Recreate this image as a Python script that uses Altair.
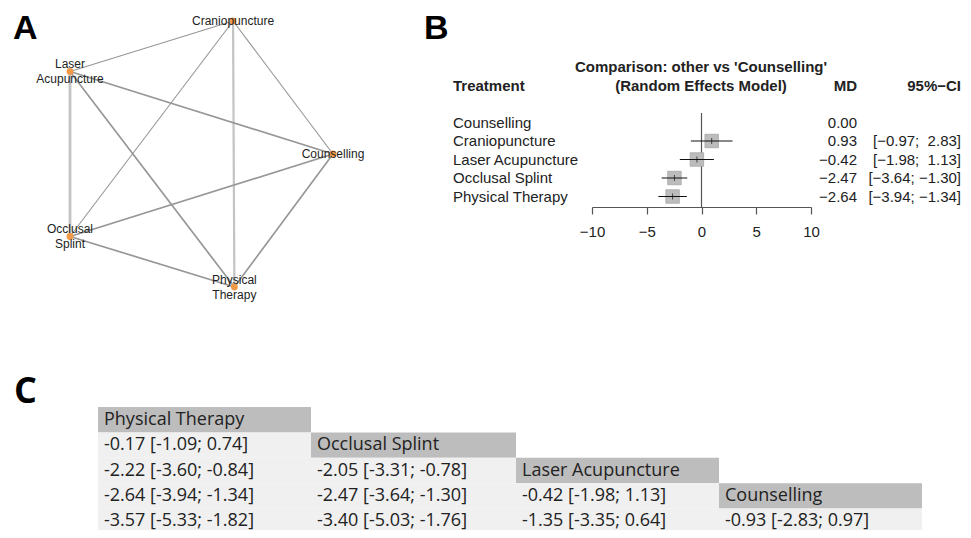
import altair as alt
import pandas as pd

# ---------------- data ----------------
panel_letters = ["A", "B", "C"]

# Panel A: network graph (layout coordinates of the nodes)
nodes = ["Craniopuncture", "Laser Acupuncture", "Counselling", "Occlusal Splint", "Physical Therapy"]
node_labels = ["Craniopuncture", "Laser\nAcupuncture", "Counselling", "Occlusal\nSplint", "Physical\nTherapy"]
node_x = [0.24, -1.0, 1.0, -1.0, 0.25]
node_y = [1.0, 0.62, 0.0, -0.62, -1.0]

edge_from = ["Craniopuncture", "Craniopuncture", "Craniopuncture", "Craniopuncture",
             "Laser Acupuncture", "Laser Acupuncture", "Laser Acupuncture",
             "Counselling", "Counselling", "Occlusal Splint"]
edge_to = ["Laser Acupuncture", "Counselling", "Occlusal Splint", "Physical Therapy",
           "Counselling", "Occlusal Splint", "Physical Therapy",
           "Occlusal Splint", "Physical Therapy", "Physical Therapy"]
edge_studies = [1, 1, 1, 3, 2, 4, 2, 2, 2, 2]
edge_shade = ["dark", "dark", "dark", "light", "dark", "light", "dark", "dark", "dark", "dark"]

# Panel B: forest plot
treatments = ["Counselling", "Craniopuncture", "Laser Acupuncture", "Occlusal Splint", "Physical Therapy"]
md = [0.00, 0.93, -0.42, -2.47, -2.64]
ci_low = [None, -0.97, -1.98, -3.64, -3.94]
ci_high = [None, 2.83, 1.13, -1.30, -1.34]
axis_ticks = [-10, -5, 0, 5, 10]
forest_title = ["Comparison: other vs 'Counselling'", "(Random Effects Model)"]
forest_cols = ["Treatment", "MD", "95%\u2212CI"]

# Panel C: league table
league_heads = ["Physical Therapy", "Occlusal Splint", "Laser Acupuncture", "Counselling"]
league_md = [[-0.17], [-2.22, -2.05], [-2.64, -2.47, -0.42], [-3.57, -3.40, -1.35, -0.93]]
league_lo = [[-1.09], [-3.60, -3.31], [-3.94, -3.64, -1.98], [-5.33, -5.03, -3.35, -2.83]]
league_hi = [[0.74], [-0.84, -0.78], [-1.34, -1.30, 1.13], [-1.82, -1.76, 0.64, 0.97]]

# ---------------- tables built from the arrays ----------------
FONT_R = "Liberation Sans"
FONT_T = "Open Sans"

pos = {n: (x, y) for n, x, y in zip(nodes, node_x, node_y)}
edges = pd.DataFrame({"from": edge_from, "to": edge_to, "n": edge_studies, "shade": edge_shade})
edges["x"] = [pos[k][0] for k in edges["from"]]
edges["y"] = [pos[k][1] for k in edges["from"]]
edges["x2"] = [pos[k][0] for k in edges["to"]]
edges["y2"] = [pos[k][1] for k in edges["to"]]
node_df = pd.DataFrame({"node": nodes, "label": node_labels, "x": node_x, "y": node_y})
node_df["lines"] = [lab.count("\n") + 1 for lab in node_labels]


def rnum(v, width=0):
    s = f"{v:{width}.2f}"
    return s.replace("-", "\u2212").replace(" ", "\u00a0")


forest = pd.DataFrame({"treatment": treatments, "md": md, "lo": ci_low, "hi": ci_high})
forest["md_txt"] = [rnum(v) for v in md]
forest["ci_txt"] = [
    "" if lo is None else "[" + rnum(lo, 5) + ";\u00a0" + rnum(hi, 5) + "]"
    for lo, hi in zip(ci_low, ci_high)
]
forest_ci = forest.dropna(subset=["lo"]).copy()

cells = []
for i, h in enumerate(league_heads):
    cells.append({"row": i, "c0": i, "c1": i + 1, "text": h, "kind": "head"})
for r in range(len(league_md)):
    for c in range(len(league_md[r])):
        t = f"{league_md[r][c]:.2f} [{league_lo[r][c]:.2f}; {league_hi[r][c]:.2f}]"
        cells.append({"row": r + 1, "c0": c, "c1": c + 1, "text": t, "kind": "body"})
cells = pd.DataFrame(cells)

# ---------------- scales ----------------
net_x = alt.Scale(domain=[-1, 1], range=[62, 325])
net_y = alt.Scale(domain=[-1, 1], range=[279, 13])
fx = alt.Scale(domain=[-10, 10], range=[584, 803])
fy = alt.Scale(type="point", domain=treatments, range=[114.5, 188.5], padding=0)
tc = alt.Scale(type="linear", domain=[0, 1, 2, 3, 4], range=[90, 303, 508, 711, 914])
tr = alt.Scale(type="band", domain=[0, 1, 2, 3, 4], range=[399, 526], paddingInner=0, paddingOuter=0)

layers = []

# panel letters
letters = pd.DataFrame({"p": panel_letters})
layers.append(alt.Chart(letters[letters.p == "A"]).mark_text(
    font=FONT_R, fontSize=34, fontWeight="bold", align="left", baseline="alphabetic", color="#000"
).encode(x=alt.value(5), y=alt.value(31), text="p:N"))
layers.append(alt.Chart(letters[letters.p == "B"]).mark_text(
    font=FONT_R, fontSize=34, fontWeight="bold", align="left", baseline="alphabetic", color="#000"
).encode(x=alt.value(416), y=alt.value(31), text="p:N"))
layers.append(alt.Chart(letters[letters.p == "C"]).mark_text(
    font=FONT_T, fontSize=36, fontWeight="bold", align="left", baseline="alphabetic", color="#000"
).encode(x=alt.value(6), y=alt.value(395), text="p:N"))

# ---- Panel A ----
layers.append(alt.Chart(edges).mark_rule(strokeCap="butt").encode(
    x=alt.X("x:Q", scale=net_x, axis=None), x2="x2:Q",
    y=alt.Y("y:Q", scale=net_y, axis=None), y2="y2:Q",
    strokeWidth=alt.StrokeWidth("n:Q", scale=alt.Scale(domain=[1, 4], range=[1.1, 2.8]), legend=None),
    color=alt.Color("shade:N", scale=alt.Scale(domain=["dark", "light"], range=["#969696", "#c4c4c4"]), legend=None),
))
layers.append(alt.Chart(node_df).mark_circle(size=48, color="#f39a48", opacity=1).encode(
    x=alt.X("x:Q", scale=net_x, axis=None),
    y=alt.Y("y:Q", scale=net_y, axis=None),
))
for nl, shift in ((1, 0), (2, -7.5)):
    layers.append(alt.Chart(node_df[node_df.lines == nl]).mark_text(
        font=FONT_R, fontSize=12, lineBreak="\n", lineHeight=15, color="#222",
        baseline="middle", align="center", dy=shift
    ).encode(
        x=alt.X("x:Q", scale=net_x, axis=None),
        y=alt.Y("y:Q", scale=net_y, axis=None),
        text="label:N",
    ))

# ---- Panel B ----
hdr = pd.DataFrame({"t": forest_title + forest_cols})
layers.append(alt.Chart(hdr[hdr.t == forest_title[0]]).mark_text(
    font=FONT_R, fontSize=15, fontWeight="bold", align="center", baseline="middle", color="#222"
).encode(x=alt.value(693), y=alt.value(59), text="t:N"))
layers.append(alt.Chart(hdr[hdr.t == forest_title[1]]).mark_text(
    font=FONT_R, fontSize=15, fontWeight="bold", align="center", baseline="middle", color="#222"
).encode(x=alt.value(693), y=alt.value(78), text="t:N"))
layers.append(alt.Chart(hdr[hdr.t == forest_cols[0]]).mark_text(
    font=FONT_R, fontSize=15, fontWeight="bold", align="left", baseline="middle", color="#222"
).encode(x=alt.value(445), y=alt.value(78), text="t:N"))
layers.append(alt.Chart(hdr[hdr.t == forest_cols[1]]).mark_text(
    font=FONT_R, fontSize=15, fontWeight="bold", align="right", baseline="middle", color="#222"
).encode(x=alt.value(849), y=alt.value(78), text="t:N"))
layers.append(alt.Chart(hdr[hdr.t == forest_cols[2]]).mark_text(
    font=FONT_R, fontSize=15, fontWeight="bold", align="right", baseline="middle", color="#222"
).encode(x=alt.value(953), y=alt.value(78), text="t:N"))

layers.append(alt.Chart(pd.DataFrame({"ref": [0.0]})).mark_rule(color="#555", strokeWidth=1.2).encode(
    x=alt.X("ref:Q", scale=fx, axis=None), y=alt.value(105), y2=alt.value(199)))
layers.append(alt.Chart(forest_ci).mark_square(
    size=182, fill="#bcbcbc", stroke="#a6a6a6", strokeWidth=0.8, opacity=1
).encode(
    x=alt.X("md:Q", scale=fx, axis=None),
    y=alt.Y("treatment:N", scale=fy, axis=None),
))
layers.append(alt.Chart(forest_ci).mark_rule(color="#111", strokeWidth=1).encode(
    x=alt.X("lo:Q", scale=fx, axis=alt.Axis(
        orient="bottom", offset=-323, values=axis_ticks, tickSize=7, tickWidth=1.2,
        domainWidth=1.2, domainColor="#555", tickColor="#555", labelColor="#222",
        labelFont=FONT_R, labelFontSize=15, labelPadding=10, grid=False, title=None,
        labelFlush=False, labelOverlap=False)),
    x2="hi:Q",
    y=alt.Y("treatment:N", scale=fy, axis=None),
))
layers.append(alt.Chart(forest_ci).mark_tick(color="#111", thickness=1, size=6).encode(
    x=alt.X("md:Q", scale=fx, axis=None),
    y=alt.Y("treatment:N", scale=fy, axis=None),
))
layers.append(alt.Chart(forest).mark_text(
    font=FONT_R, fontSize=15, align="left", baseline="middle", color="#222"
).encode(x=alt.value(445), y=alt.Y("treatment:N", scale=fy, axis=None), text="treatment:N"))
layers.append(alt.Chart(forest).mark_text(
    font=FONT_R, fontSize=15, align="right", baseline="middle", color="#222"
).encode(x=alt.value(849), y=alt.Y("treatment:N", scale=fy, axis=None), text="md_txt:N"))
layers.append(alt.Chart(forest).mark_text(
    font=FONT_R, fontSize=15, align="right", baseline="middle", color="#222"
).encode(x=alt.value(953), y=alt.Y("treatment:N", scale=fy, axis=None), text="ci_txt:N"))

# ---- Panel C ----
layers.append(alt.Chart(cells).mark_rect(strokeWidth=0).encode(
    x=alt.X("c0:Q", scale=tc, axis=None), x2="c1:Q",
    y=alt.Y("row:O", scale=tr, axis=None),
    color=alt.Color("kind:N", scale=alt.Scale(domain=["head", "body"], range=["#bdbdbd", "#f0f0f0"]), legend=None),
))
layers.append(alt.Chart(cells).mark_text(
    font=FONT_T, fontSize=18, align="left", baseline="middle", dx=6, color="#222"
).encode(
    x=alt.X("c0:Q", scale=tc, axis=None),
    y=alt.Y("row:O", scale=tr, axis=None),
    text="text:N",
))

chart = alt.layer(*layers).resolve_scale(
    x="independent", y="independent", color="independent", strokeWidth="independent"
).properties(
    width=955, height=522, padding=0, autosize="none", background="white"
).configure_view(stroke=None)

chart.save("out.html", embed_options={"renderer": "svg", "actions": False})
